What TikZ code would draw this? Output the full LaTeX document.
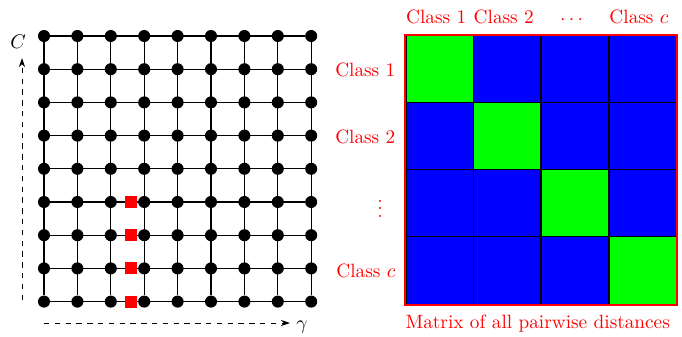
\documentclass[tikz,border=0pt]{standalone}
\usepackage{amsmath}
\usetikzlibrary{arrows.meta,positioning}
\definecolor{verdecel}{HTML}{00FF00}
\definecolor{azulcel}{HTML}{0000FF}

\begin{document}
\begin{tikzpicture}[
  x=0.5556pt,y=-0.5556pt,
  node distance=2.5pt and 2pt,
  font=\fontsize{10.7}{13}\selectfont,
  dot/.style={circle,fill=black,inner sep=0pt,minimum size=6.7pt},
  pick/.style={rectangle,fill=red,inner sep=0pt,minimum size=6.7pt},
  gridline/.style={line width=0.7pt},
  cell/.style={draw=black,line width=0.8pt,fill=azulcel,inner sep=0pt,minimum size=37.5pt},
  diag/.style={cell,fill=verdecel},
  lbl/.style={text=red},
  eixo/.style={dashed,line width=0.5pt,-{Stealth[length=1.8mm,width=1.2mm]}}
]
  \useasboundingbox (0,0) rectangle (682,337);
  \foreach \i in {0,...,8}
    \foreach \j in {0,...,8}
      \node[dot] (g\i\j) at ({44+33.4*\i},{36+33.2*\j}) {};
  \foreach \k in {0,...,8} {
    \draw[gridline] (g\k0) -- (g\k8);
    \draw[gridline] (g0\k) -- (g8\k);
  }
  \foreach \j in {5,...,8}
    \node[pick,left=0pt of g3\j] (p\j) {};
  \coordinate (cbot) at (22,300);
  \coordinate (ctop) at (22,58);
  \draw[eixo] (cbot) -- (ctop);
  \node (clab) at (18,42) {$C$};
  \coordinate (gesq) at (44,323);
  \coordinate (gdir) at (290,323);
  \draw[eixo] (gesq) -- (gdir);
  \node (glab) at (302,327) {$\gamma$};
  \foreach \r in {1,...,4}
    \foreach \c in {1,...,4} {
      \ifnum\r=\c
        \node[diag] (m\r\c) at ({406+67.6*(\c-0.5)},{36+67*(\r-0.5)}) {};
      \else
        \node[cell] (m\r\c) at ({406+67.6*(\c-0.5)},{36+67*(\r-0.5)}) {};
      \fi
    }
  \draw[red,line width=1.2pt] (m11.north west) rectangle (m44.south east);
  \node[lbl,above=of m11,xshift=-2pt] (top1) {Class 1};
  \node[lbl,above=of m12,xshift=-2pt] (top2) {Class 2};
  \node[lbl,above=of m13,xshift=-1pt] (top3) {$\cdots$};
  \node[lbl,above=of m14,xshift=-2pt] (top4) {Class $c$};
  \node[lbl,left=of m11] (row1) {Class 1};
  \node[lbl,left=of m21] (row2) {Class 2};
  \node[lbl,left=9pt of m31] (row3) {$\vdots$};
  \node[lbl,left=of m41] (row4) {Class $c$};
  \node[lbl,anchor=north west,inner xsep=0pt,yshift=-2pt] (mlab) at (m41.south west) {Matrix of all pairwise distances};
\end{tikzpicture}
\end{document}
